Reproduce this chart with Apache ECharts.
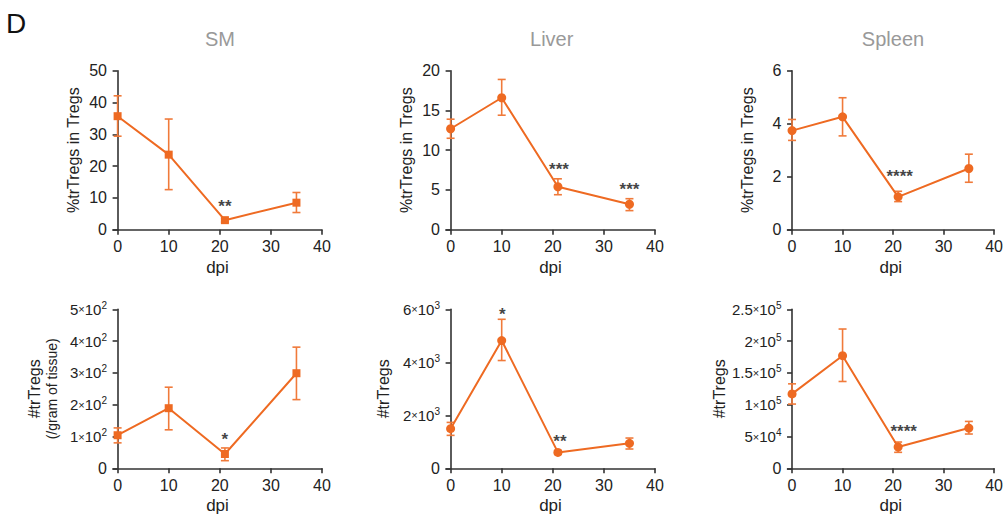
<!DOCTYPE html>
<html>
<head>
<meta charset="utf-8">
<script src="https://cdn.jsdelivr.net/npm/echarts@6/dist/echarts.min.js"></script>
<style>
html,body{margin:0;padding:0;background:#fff;}
#c{width:1006px;height:519px;}
</style>
</head>
<body>
<div id="c"></div>
<script>
// ---- data ----
const dpi = [0, 10, 21, 35];
const xTicks = [0, 10, 20, 30, 40];
const panelTitles = ['SM', 'Liver', 'Spleen'];

const smPct = [35.7, 23.6, 3.0, 8.5];
const smPctLow = [29.4, 12.6, 2.4, 5.4];
const smPctHigh = [42.1, 34.8, 3.6, 11.7];

const liverPct = [12.7, 16.6, 5.4, 3.2];
const liverPctLow = [11.5, 14.4, 4.4, 2.4];
const liverPctHigh = [13.9, 18.9, 6.4, 3.9];

const spleenPct = [3.74, 4.26, 1.24, 2.31];
const spleenPctLow = [3.37, 3.54, 1.06, 1.79];
const spleenPctHigh = [4.16, 4.98, 1.45, 2.85];

const smNum = [104, 189, 45, 299];
const smNumLow = [80, 121, 24, 216];
const smNumHigh = [127, 255, 64, 381];

const liverNum = [1494, 4820, 600, 941];
const liverNumLow = [1243, 4067, 527, 728];
const liverNumHigh = [1732, 5623, 678, 1142];

const spleenNum = [117000, 177000, 33500, 63300];
const spleenNumLow = [101000, 136500, 25100, 53900];
const spleenNumHigh = [132800, 219000, 41300, 73700];

// significance marks: [x, y, text]
const smPctStars = [[21, 8.2, '**']];
const liverPctStars = [[21.2, 8.0, '***'], [35, 5.4, '***']];
const spleenPctStars = [[21.3, 2.12, '****']];
const smNumStars = [[21, 100, '*']];
const liverNumStars = [[10.1, 5912, '*'], [21.4, 1142, '**']];
const spleenNumStars = [[22.1, 63300, '****']];

// y axis ranges
const yMax = [50, 20, 6, 500, 6000, 250000];
const yStep = [10, 5, 2, 100, 2000, 50000];
// ---- end data ----

const ORANGE = '#EE6A22';
const ERR = '#F07A3A';
const AX = '#333333';
const FONT = '"Liberation Sans", Arial, sans-serif';

const panels = [
  {v: smPct, lo: smPctLow, hi: smPctHigh, stars: smPctStars, sym: 'rect', name: '%trTregs in Tregs', sci: false},
  {v: liverPct, lo: liverPctLow, hi: liverPctHigh, stars: liverPctStars, sym: 'circle', name: '%trTregs in Tregs', sci: false},
  {v: spleenPct, lo: spleenPctLow, hi: spleenPctHigh, stars: spleenPctStars, sym: 'circle', name: '%trTregs in Tregs', sci: false},
  {v: smNum, lo: smNumLow, hi: smNumHigh, stars: smNumStars, sym: 'rect', name: '{a|#trTregs}\n{b|(/gram of tissue)}', sci: true},
  {v: liverNum, lo: liverNumLow, hi: liverNumHigh, stars: liverNumStars, sym: 'circle', name: '#trTregs', sci: true},
  {v: spleenNum, lo: spleenNumLow, hi: spleenNumHigh, stars: spleenNumStars, sym: 'circle', name: '#trTregs', sci: true}
];

const gridLeft = [113, 446, 787.5];
const gridTop = [70.7, 309.3];
const gridW = 209;
const gridH = 159;
const nameGaps = [31, 31, 31, 53, 54, 58];

function sciLabel(v) {
  if (v === 0) return '0';
  const e = Math.floor(Math.log10(v) + 1e-9);
  const m = Math.round(v / Math.pow(10, e) * 100) / 100;
  return '{m|' + m + '}{x|×}{m|10}{s|' + e + '}';
}

const grids = [], xAxes = [], yAxes = [], series = [];
panels.forEach((p, i) => {
  const col = i % 3, row = Math.floor(i / 3);
  grids.push({left: gridLeft[col], top: gridTop[row], width: gridW, height: gridH, containLabel: false});
  xAxes.push({
    type: 'value', gridIndex: i, min: -0.9, max: 40,
    name: 'dpi', nameLocation: 'middle', nameGap: 29,
    nameTextStyle: {fontFamily: FONT, fontSize: 17, color: '#222'},
    axisLine: {show: true, onZero: false, lineStyle: {color: AX, width: 1.6}},
    axisTick: {show: true, length: 5, lineStyle: {color: AX, width: 1.6}, customValues: xTicks},
    axisLabel: {fontFamily: FONT, fontSize: 16, color: '#222', margin: 9, customValues: xTicks},
    splitLine: {show: false}
  });
  yAxes.push({
    type: 'value', gridIndex: i, min: 0, max: yMax[i], interval: yStep[i],
    name: p.name, nameLocation: 'middle', nameGap: nameGaps[i], nameRotate: 90,
    nameTextStyle: {fontFamily: FONT, fontSize: 16, color: '#222', lineHeight: 18,
      rich: {a: {fontFamily: FONT, fontSize: 16, color: '#222', lineHeight: 18},
             b: {fontFamily: FONT, fontSize: 14, color: '#222', lineHeight: 17}}},
    axisLine: {show: true, lineStyle: {color: AX, width: 1.6}},
    axisTick: {show: true, length: 5, lineStyle: {color: AX, width: 1.6}},
    axisLabel: {
      fontFamily: FONT, fontSize: 16, color: '#222', margin: 6,
      formatter: p.sci ? sciLabel : (v) => String(v),
      rich: {
        m: {fontFamily: FONT, fontSize: 15, color: '#222', lineHeight: 18},
        x: {fontFamily: FONT, fontSize: 11, color: '#222', lineHeight: 18},
        s: {fontFamily: FONT, fontSize: 10, color: '#222', verticalAlign: 'top', lineHeight: 18, padding: [0, 0, 6, 0]}
      }
    },
    splitLine: {show: false}
  });
  series.push({
    type: 'custom', xAxisIndex: i, yAxisIndex: i, z: 1,
    data: dpi.map((x, k) => [x, p.lo[k], p.hi[k]]),
    encode: {x: 0, y: [1, 2]},
    renderItem: function (params, api) {
      const x = api.value(0);
      const a = api.coord([x, api.value(1)]);
      const b = api.coord([x, api.value(2)]);
      const w = 4;
      const st = {stroke: ERR, lineWidth: 1.6};
      return {type: 'group', children: [
        {type: 'line', shape: {x1: a[0], y1: a[1], x2: b[0], y2: b[1]}, style: st},
        {type: 'line', shape: {x1: a[0] - w, y1: a[1], x2: a[0] + w, y2: a[1]}, style: st},
        {type: 'line', shape: {x1: b[0] - w, y1: b[1], x2: b[0] + w, y2: b[1]}, style: st}
      ]};
    },
    silent: true
  });
  series.push({
    type: 'line', xAxisIndex: i, yAxisIndex: i, z: 3,
    data: dpi.map((x, k) => [x, p.v[k]]),
    symbol: p.sym, symbolSize: p.sym === 'rect' ? 8 : 9, showSymbol: true,
    lineStyle: {color: ORANGE, width: 2},
    itemStyle: {color: ORANGE},
    animation: false, silent: true
  });
  series.push({
    type: 'scatter', xAxisIndex: i, yAxisIndex: i, z: 4,
    data: p.stars.map(s => ({value: [s[0], s[1]], name: s[2]})),
    symbolSize: 0,
    label: {show: true, position: 'inside', formatter: '{b}', fontFamily: FONT,
      fontSize: 17, fontWeight: 'bold', color: '#111', offset: [0, 3]},
    animation: false, silent: true
  });
});

const graphics = [
  {type: 'text', left: 6, top: 9, style: {text: 'D', fontFamily: FONT, fontSize: 28, fill: '#111'}}
];
const titleX = [220, 551.7, 893];
panelTitles.forEach((t, k) => {
  graphics.push({type: 'text', x: titleX[k], y: 39, style: {text: t, fontFamily: FONT,
    fontSize: 20, fill: '#999999', textAlign: 'center', textVerticalAlign: 'middle'}});
});

const chart = echarts.init(document.getElementById('c'), null, {renderer: 'svg'});
chart.setOption({
  animation: false,
  backgroundColor: '#ffffff',
  grid: grids, xAxis: xAxes, yAxis: yAxes, series: series,
  graphic: graphics
});
</script>
</body>
</html>
